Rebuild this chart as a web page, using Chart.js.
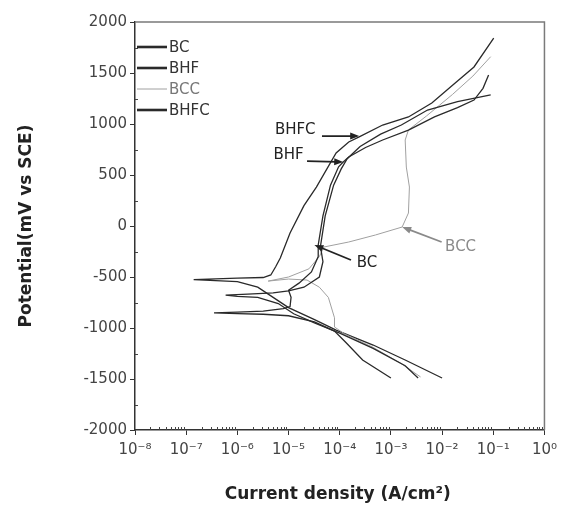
<!DOCTYPE html>
<html>
<head>
<meta charset="utf-8">
<script src="https://cdn.jsdelivr.net/npm/chart.js@4.4.1/dist/chart.umd.min.js"></script>
<style>
  html, body { margin: 0; padding: 0; background: #fff; }
  #wrap { width: 563px; height: 510px; }
</style>
</head>
<body>
<div id="wrap"><canvas id="chart" width="563" height="510"></canvas></div>
<script>
// polarization curves, current in A/cm2, potential in mV vs SCE
const bcCurrent = [3.4e-3, 1.9e-3, 4.5e-4, 1.0e-4, 3.2e-5, 1.26e-5, 6.3e-6, 2.5e-6, 1.0e-6, 5.9e-7,
  1.6e-6, 5.0e-6, 1.0e-5, 2.0e-5, 4.0e-5, 4.7e-5, 4.2e-5, 5.2e-5, 7.6e-5, 1.07e-4,
  1.4e-4, 2.5e-4, 6.3e-4, 1.6e-3, 5.2e-3, 2.0e-2, 8.9e-2];
const bcPotential = [-1490, -1370, -1200, -1050, -950, -860, -760, -700, -690, -678,
  -668, -655, -635, -600, -500, -350, -200, 100, 400, 560,
  660, 780, 900, 990, 1137, 1220, 1285];

const bhfCurrent = [1.0e-3, 2.8e-4, 1.35e-4, 7.9e-5, 3.2e-5, 1.0e-5, 3.2e-6, 1.0e-6, 3.5e-7, 1.0e-6,
  3.2e-6, 7.9e-6, 1.07e-5, 1.12e-5, 1.0e-5, 1.6e-5, 2.8e-5, 3.8e-5, 3.8e-5, 4.7e-5,
  6.6e-5, 9.5e-5, 1.17e-4, 1.5e-4, 3.2e-4, 6.9e-4, 2.2e-3, 7.1e-3, 2.0e-2, 4.2e-2,
  6.3e-2, 8.1e-2];
const bhfPotential = [-1490, -1314, -1147, -1030, -940, -880, -865, -860, -852, -845,
  -835, -810, -790, -700, -630, -560, -450, -300, -186, 100,
  400, 580, 628, 676, 770, 843, 940, 1070, 1160, 1235,
  1350, 1480];

const bccCurrent = [3.8e-3, 1.6e-3, 4.5e-4, 1.26e-4, 7.9e-5, 7.9e-5, 6.0e-5, 4.0e-5, 2.3e-5, 1.0e-5,
  4.0e-6, 1.0e-5, 2.5e-5, 4.0e-5, 4.9e-5, 1.5e-4, 5.0e-4, 1.66e-3, 2.2e-3, 2.3e-3,
  2.0e-3, 1.9e-3, 2.2e-3, 5.0e-3, 1.6e-2, 4.0e-2, 8.9e-2];
const bccPotential = [-1480, -1350, -1190, -1060, -990, -900, -700, -600, -530, -520,
  -540, -500, -420, -300, -206, -157, -88, -10, 127, 382,
  578, 843, 941, 1080, 1290, 1470, 1660];

const bhfcCurrent = [1.0e-2, 1.9e-3, 4.5e-4, 8.5e-5, 3.3e-5, 1.0e-5, 5.0e-6, 2.5e-6, 1.0e-6, 1.4e-7,
  1.0e-6, 3.2e-6, 4.5e-6, 5.6e-6, 6.9e-6, 1.07e-5, 2.0e-5, 3.5e-5, 8.5e-5, 1.5e-4,
  2.4e-4, 6.9e-4, 2.2e-3, 6.3e-3, 1.6e-2, 4.2e-2, 1.02e-1];
const bhfcPotential = [-1490, -1314, -1167, -1020, -920, -800, -700, -600, -545, -525,
  -512, -505, -480, -400, -314, -69, 200, 382, 716, 824,
  873, 990, 1069, 1206, 1380, 1559, 1843];

const xTickExponents = [-8, -7, -6, -5, -4, -3, -2, -1, 0];
const yTicks = [-2000, -1500, -1000, -500, 0, 500, 1000, 1500, 2000];

// labels with arrows: text position, arrow start, arrow end (data coords)
const notes = [
  { text: "BHFC", at: [1.35e-5, 941], from: [4.5e-5, 882], to: [2.4e-4, 882], color: "#222" },
  { text: "BHF", at: [1.0e-5, 696], from: [2.3e-5, 637], to: [1.17e-4, 627], color: "#222" },
  { text: "BC", at: [3.4e-4, -363], from: [1.66e-4, -333], to: [3.2e-5, -186], color: "#222" },
  { text: "BCC", at: [2.3e-2, -206], from: [9.8e-3, -157], to: [1.66e-3, -10], color: "#8a8a8a" },
];

const FONT = "'DejaVu Sans', sans-serif";
const SUP = { "-": "\u207B", "0": "\u2070", "1": "\u00B9", "2": "\u00B2", "3": "\u00B3",
  "4": "\u2074", "5": "\u2075", "6": "\u2076", "7": "\u2077", "8": "\u2078", "9": "\u2079" };

function pairs(xs, ys) {
  return xs.map((x, i) => ({ x, y: ys[i] }));
}

function curve(label, xs, ys, color, width) {
  return {
    label,
    data: pairs(xs, ys),
    showLine: true,
    borderColor: color,
    backgroundColor: color,
    borderWidth: width,
    pointRadius: 0,
    tension: 0,
  };
}

function arrow(ctx, x0, y0, x1, y1, color) {
  const ang = Math.atan2(y1 - y0, x1 - x0);
  ctx.strokeStyle = color;
  ctx.fillStyle = color;
  ctx.lineWidth = 1.8;
  ctx.beginPath();
  ctx.moveTo(x0, y0);
  ctx.lineTo(x1 - 6 * Math.cos(ang), y1 - 6 * Math.sin(ang));
  ctx.stroke();
  ctx.beginPath();
  ctx.moveTo(x1, y1);
  ctx.lineTo(x1 - 9 * Math.cos(ang) + 3.5 * Math.sin(ang), y1 - 9 * Math.sin(ang) - 3.5 * Math.cos(ang));
  ctx.lineTo(x1 - 9 * Math.cos(ang) - 3.5 * Math.sin(ang), y1 - 9 * Math.sin(ang) + 3.5 * Math.cos(ang));
  ctx.closePath();
  ctx.fill();
}

const decor = {
  id: "decor",
  afterDraw(chart) {
    const { ctx, chartArea: a } = chart;
    const x = chart.scales.x;
    const y = chart.scales.y;
    ctx.save();

    // frame on top / right
    ctx.strokeStyle = "#7a7a7a";
    ctx.lineWidth = 1.5;
    ctx.beginPath();
    ctx.moveTo(a.left, a.top);
    ctx.lineTo(a.right, a.top);
    ctx.lineTo(a.right, a.bottom);
    ctx.stroke();

    // minor ticks
    ctx.strokeStyle = "#444";
    ctx.lineWidth = 1;
    ctx.beginPath();
    for (let v = -1750; v < 2000; v += 500) {
      const py = Math.round(y.getPixelForValue(v)) + 0.5;
      ctx.moveTo(a.left, py);
      ctx.lineTo(a.left + 3, py);
    }
    for (let e = -8; e < 0; e++) {
      for (let m = 2; m <= 9; m++) {
        const px = Math.round(x.getPixelForValue(m * Math.pow(10, e))) + 0.5;
        ctx.moveTo(px, a.bottom);
        ctx.lineTo(px, a.bottom - 3);
      }
    }
    ctx.stroke();

    // legend, top left inside the plot
    ctx.font = "15px " + FONT;
    ctx.textBaseline = "middle";
    ctx.textAlign = "left";
    const rows = [47, 68, 89, 110];
    chart.data.datasets.forEach((ds, i) => {
      ctx.strokeStyle = ds.borderColor;
      ctx.lineWidth = ds.borderWidth > 1 ? 2.6 : 1;
      ctx.beginPath();
      ctx.moveTo(a.left + 2, rows[i]);
      ctx.lineTo(a.left + 32, rows[i]);
      ctx.stroke();
      ctx.fillStyle = ds.borderWidth > 1 ? "#333" : "#777";
      ctx.fillText(ds.label, a.left + 34, rows[i] + 1);
    });

    // annotations
    ctx.textAlign = "center";
    notes.forEach((n) => {
      ctx.fillStyle = n.color;
      ctx.fillText(n.text, x.getPixelForValue(n.at[0]), y.getPixelForValue(n.at[1]));
      arrow(ctx,
        x.getPixelForValue(n.from[0]), y.getPixelForValue(n.from[1]),
        x.getPixelForValue(n.to[0]), y.getPixelForValue(n.to[1]), n.color);
    });

    // axis titles
    ctx.fillStyle = "#222";
    ctx.font = "bold 17px " + FONT;
    ctx.textAlign = "center";
    ctx.fillText("Current density (A/cm\u00B2)", (a.left + a.right) / 2 - 2, 495);
    ctx.translate(27, (a.top + a.bottom) / 2);
    ctx.rotate(-Math.PI / 2);
    ctx.fillText("Potential(mV vs SCE)", 0, 0);
    ctx.restore();
  },
};

new Chart(document.getElementById("chart"), {
  type: "scatter",
  data: {
    datasets: [
      curve("BC", bcCurrent, bcPotential, "#2a2a2a", 1.3),
      curve("BHF", bhfCurrent, bhfPotential, "#2a2a2a", 1.3),
      curve("BCC", bccCurrent, bccPotential, "#a0a0a0", 1),
      curve("BHFC", bhfcCurrent, bhfcPotential, "#2a2a2a", 1.3),
    ],
  },
  options: {
    responsive: false,
    animation: false,
    layout: { padding: { left: 0, right: 11, top: 22, bottom: 0 } },
    plugins: {
      legend: { display: false },
      tooltip: { enabled: false },
    },
    scales: {
      x: {
        type: "logarithmic",
        min: 1e-8,
        max: 1,
        afterBuildTicks: (scale) => {
          scale.ticks = xTickExponents.map((e) => ({ value: Math.pow(10, e), major: true }));
        },
        afterFit: (scale) => {
          scale.height = 80;
        },
        ticks: {
          autoSkip: false,
          maxRotation: 0,
          padding: 6,
          color: "#444",
          font: { family: FONT, size: 15 },
          callback: (value) => {
            const e = String(Math.round(Math.log10(value)));
            return "10" + e.split("").map((c) => SUP[c]).join("");
          },
        },
        grid: { drawOnChartArea: false, drawTicks: true, tickLength: 5, color: "#333" },
        border: { color: "#333", width: 1.5 },
      },
      y: {
        min: -2000,
        max: 2000,
        afterBuildTicks: (scale) => {
          scale.ticks = yTicks.map((v) => ({ value: v }));
        },
        afterFit: (scale) => {
          scale.width = 135;
        },
        ticks: {
          padding: 3,
          color: "#444",
          font: { family: FONT, size: 15 },
          callback: (value) => String(value),
        },
        grid: { drawOnChartArea: false, drawTicks: true, tickLength: 5, color: "#333" },
        border: { color: "#333", width: 1.5 },
      },
    },
  },
  plugins: [decor],
});
</script>
</body>
</html>
